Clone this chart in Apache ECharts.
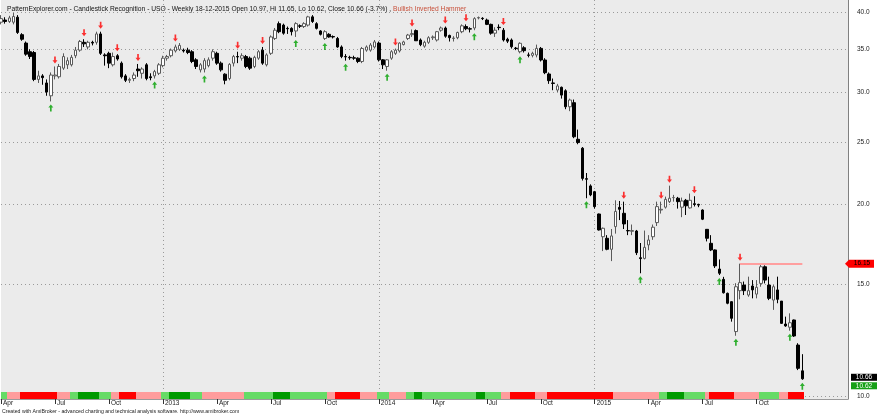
<!DOCTYPE html>
<html><head><meta charset="utf-8">
<script src="https://cdn.jsdelivr.net/npm/echarts@6/dist/echarts.min.js"></script>
<style>html,body{margin:0;padding:0;background:#fff}#c{width:880px;height:415px}</style>
</head><body><div id="c"></div>
<script>
// ---------- data ----------
const symbol = 'USO';
const dates = [
'2012-04-06','2012-04-13','2012-04-20','2012-04-27','2012-05-04','2012-05-11','2012-05-18','2012-05-25','2012-06-01','2012-06-08','2012-06-15','2012-06-22','2012-06-29','2012-07-06','2012-07-13','2012-07-20','2012-07-27','2012-08-03','2012-08-10','2012-08-17','2012-08-24','2012-08-31','2012-09-07','2012-09-14','2012-09-21','2012-09-28','2012-10-05','2012-10-12','2012-10-19','2012-10-26','2012-11-02','2012-11-09','2012-11-16','2012-11-23','2012-11-30','2012-12-07','2012-12-14','2012-12-21','2012-12-28',
'2013-01-04','2013-01-11','2013-01-18','2013-01-25','2013-02-01','2013-02-08','2013-02-15','2013-02-22','2013-03-01','2013-03-08','2013-03-15','2013-03-22','2013-03-29','2013-04-05','2013-04-12','2013-04-19','2013-04-26','2013-05-03','2013-05-10','2013-05-17','2013-05-24','2013-05-31','2013-06-07','2013-06-14','2013-06-21','2013-06-28','2013-07-05','2013-07-12','2013-07-19','2013-07-26','2013-08-02','2013-08-09','2013-08-16','2013-08-23','2013-08-30','2013-09-06','2013-09-13','2013-09-20','2013-09-27','2013-10-04','2013-10-11','2013-10-18','2013-10-25','2013-11-01','2013-11-08','2013-11-15','2013-11-22','2013-11-29','2013-12-06','2013-12-13','2013-12-20','2013-12-27',
'2014-01-03','2014-01-10','2014-01-17','2014-01-24','2014-01-31','2014-02-07','2014-02-14','2014-02-21','2014-02-28','2014-03-07','2014-03-14','2014-03-21','2014-03-28','2014-04-04','2014-04-11','2014-04-18','2014-04-25','2014-05-02','2014-05-09','2014-05-16','2014-05-23','2014-05-30','2014-06-06','2014-06-13','2014-06-20','2014-06-27','2014-07-04','2014-07-11','2014-07-18','2014-07-25','2014-08-01','2014-08-08','2014-08-15','2014-08-22','2014-08-29','2014-09-05','2014-09-12','2014-09-19','2014-09-26','2014-10-03','2014-10-10','2014-10-17','2014-10-24','2014-10-31','2014-11-07','2014-11-14','2014-11-21','2014-11-28','2014-12-05','2014-12-12','2014-12-19','2014-12-26',
'2015-01-02','2015-01-09','2015-01-16','2015-01-23','2015-01-30','2015-02-06','2015-02-13','2015-02-20','2015-02-27','2015-03-06','2015-03-13','2015-03-20','2015-03-27','2015-04-03','2015-04-10','2015-04-17','2015-04-24','2015-05-01','2015-05-08','2015-05-15','2015-05-22','2015-05-29','2015-06-05','2015-06-12','2015-06-19','2015-06-26','2015-07-03','2015-07-10','2015-07-17','2015-07-24','2015-07-31','2015-08-07','2015-08-14','2015-08-21','2015-08-28','2015-09-04','2015-09-11','2015-09-18','2015-09-25','2015-10-02','2015-10-09','2015-10-16','2015-10-23','2015-10-30','2015-11-06','2015-11-13','2015-11-20','2015-11-27','2015-12-04','2015-12-11','2015-12-18'
];
const open = [
38.6,38.9,38.7,38.6,39.3,36.9,35.8,34.7,34.6,31.4,
31.8,31.0,29.6,31.8,31.7,32.7,33.1,33.1,34.2,34.9,
35.9,35.3,35.9,35.9,37.0,34.3,34.5,33.1,34.2,33.3,
31.8,31.3,31.5,32.6,32.1,33.1,31.7,31.8,32.1,33.0,
33.9,34.2,34.8,35.0,34.9,34.9,34.7,33.7,32.5,32.6,
33.0,33.9,34.5,33.3,32.0,31.5,33.3,34.1,33.9,34.1,
33.9,32.9,33.9,34.9,33.1,34.5,36.4,38.4,38.2,37.75,
37.75,37.4,38.1,38.0,38.2,39.35,38.4,37.4,36.4,36.95,
36.65,36.4,35.3,34.1,34.0,33.95,33.9,33.5,34.9,34.9,
35.3,35.8,33.7,32.9,33.9,34.5,34.8,35.6,36.4,36.9,
37.45,36.2,35.4,35.9,36.5,36.2,37.5,37.8,36.8,36.4,
36.5,37.3,38.0,37.7,37.8,39.2,39.15,38.9,38.3,37.1,
37.9,37.5,36.3,36.2,35.15,34.7,35.2,34.3,34.25,34.29,
35.12,33.68,32.02,31.0,30.22,30.52,30.14,28.45,28.87,25.3,
24.5,21.95,21.38,20.94,19.32,17.8,17.7,17.01,18.46,19.79,
19.37,18.2,18.15,18.17,16.5,16.46,17.28,17.8,18.73,19.6,
19.8,20.2,20.5,20.45,19.8,20.3,19.75,20.05,20.0,19.6,
18.28,17.38,16.97,15.84,15.26,14.51,14.08,12.64,14.65,14.95,
14.42,14.9,14.47,15.04,15.97,14.95,14.16,14.69,14.11,12.99,
12.84,13.18,12.04,10.97
];
const high = [
39.6,39.3,39.5,39.9,39.6,37.1,36.0,35.0,34.8,32.4,
32.0,31.4,32.2,32.9,33.2,34.5,34.0,34.3,35.3,36.2,
36.3,36.1,36.1,37.3,37.3,34.5,34.7,34.6,34.4,33.5,
32.0,31.6,32.2,33.2,32.8,33.3,32.1,32.5,33.3,34.2,
34.3,35.1,35.6,35.8,35.1,35.2,34.9,33.9,33.3,33.9,
34.0,35.0,34.7,33.5,32.1,33.3,34.3,34.7,34.5,34.3,
34.1,34.2,34.9,35.3,34.5,36.8,37.8,38.7,38.4,38.0,
37.9,38.6,38.3,38.6,39.5,39.6,38.6,37.5,37.5,37.1,
36.8,36.6,35.5,34.4,34.2,34.2,34.0,35.3,35.5,35.8,
36.2,36.0,33.8,33.8,34.9,35.1,35.9,36.1,37.0,37.6,
37.6,36.4,36.1,36.7,36.8,37.4,38.0,38.0,36.9,36.7,
37.3,38.3,38.3,37.9,39.3,39.4,39.3,39.1,38.4,37.9,
38.3,37.8,36.5,36.4,35.3,35.9,35.4,34.6,34.7,35.6,
35.3,33.9,32.2,31.5,30.9,30.6,30.3,29.3,29.2,26.2,
24.6,22.4,21.5,21.0,19.35,18.4,17.9,18.3,20.3,20.25,
20.2,18.9,18.6,18.24,17.4,18.2,17.9,18.6,20.2,20.2,
20.57,21.4,20.7,20.55,20.5,20.4,20.8,20.6,20.05,19.65,
18.3,17.9,17.0,16.4,15.4,14.55,14.1,15.05,16.15,15.14,
15.41,15.22,15.22,16.12,16.05,15.41,14.95,15.41,14.11,13.34,
13.5,13.2,12.12,11.65
];
const low = [
38.3,38.4,38.5,38.3,37.0,36.1,34.2,33.8,31.2,31.0,
30.8,29.6,29.0,31.4,31.5,32.5,32.6,32.9,33.9,34.7,
35.3,35.0,35.5,35.6,34.3,33.0,32.7,32.9,33.6,31.5,
31.1,31.0,31.2,31.7,31.5,31.3,31.3,31.5,31.9,32.8,
33.6,34.0,34.6,34.8,34.6,34.4,33.3,32.6,32.2,32.2,
32.8,33.6,33.1,32.3,30.85,31.3,32.9,33.3,33.6,32.7,
32.5,32.7,33.7,33.1,32.9,34.3,36.2,37.1,36.9,37.0,
36.8,36.6,37.8,37.8,38.0,38.5,37.6,36.8,36.2,36.5,
36.4,35.2,33.9,33.6,33.7,33.7,33.3,33.3,34.7,34.7,
35.1,33.5,32.6,32.4,33.7,34.3,34.6,35.5,36.2,36.6,
36.1,35.4,35.2,35.7,36.2,36.0,37.3,36.5,36.0,36.0,
36.3,37.1,37.5,37.2,37.5,39.0,38.9,38.2,36.9,36.6,
37.5,36.0,35.8,35.1,34.9,34.5,34.6,34.0,34.0,34.0,
33.5,32.0,30.9,30.2,30.0,29.3,28.2,28.0,25.4,24.85,
21.8,20.45,20.6,19.7,18.2,16.9,16.95,16.3,18.0,18.9,
18.3,17.9,17.9,16.66,15.6,16.4,16.95,17.6,18.5,19.35,
19.7,20.1,20.2,19.7,19.1,19.25,19.7,19.85,19.8,18.9,
17.5,16.9,15.9,15.5,14.5,13.95,13.1,12.45,14.2,14.42,
14.33,14.25,14.25,14.86,15.04,14.16,13.67,14.0,13.0,12.86,
12.68,12.4,11.0,10.62
];
const close = [
39.1,38.7,39.2,39.4,37.2,36.3,34.4,34.1,31.4,31.8,
31.6,30.0,31.9,31.9,32.9,34.1,33.6,34.0,34.9,36.0,
35.7,35.9,35.8,37.0,34.5,34.2,33.3,34.1,33.8,31.7,
31.3,31.4,31.9,32.4,32.6,31.5,31.6,32.3,33.1,33.9,
34.1,34.9,35.3,35.5,34.8,34.6,33.5,32.9,33.1,33.6,
33.7,34.7,33.3,32.5,31.3,33.15,34.1,34.05,34.2,32.9,
32.7,34.0,34.7,33.3,34.3,36.6,37.5,37.3,37.1,37.7,
37.3,38.4,38.05,38.4,39.35,38.7,37.75,36.95,37.3,36.6,
36.6,35.3,34.1,34.05,33.95,33.9,33.5,35.1,35.3,35.55,
35.95,33.7,33.1,33.7,34.7,34.9,35.8,35.95,36.85,37.05,
36.1,35.6,35.9,36.5,36.6,37.3,37.8,36.7,36.5,36.45,
37.2,38.1,37.7,37.65,39.1,39.25,39.1,38.3,37.1,37.5,
37.85,36.2,36.05,35.33,35.1,35.77,34.83,34.25,34.5,35.12,
33.68,32.17,31.26,30.95,30.67,29.67,28.45,29.15,25.53,25.0,
21.97,21.9,20.7,19.84,18.24,18.35,17.01,17.85,19.5,19.65,
18.64,18.18,18.2,16.8,16.45,17.13,17.59,18.42,19.84,19.65,
20.37,20.45,20.5,20.2,20.25,19.9,20.3,20.0,19.95,18.96,
17.7,16.97,16.02,15.6,14.54,14.0,13.26,14.86,15.08,14.65,
14.65,14.69,14.83,15.97,15.22,14.25,14.86,14.2,13.02,12.9,
13.05,12.44,11.07,10.66
];
// trend ribbon: 0 light green, 1 dark green, 2 light red, 3 red
const trend = [
0,0,2,2,2,3,3,3,3,3,
3,3,3,3,2,2,2,0,0,1,
1,1,1,1,0,0,0,2,2,3,
3,3,3,2,2,2,2,2,2,0,
0,1,1,1,1,1,0,0,0,2,
2,2,2,2,2,2,2,2,2,0,
0,0,0,0,0,0,1,1,1,1,
0,0,0,0,0,0,0,0,0,2,
2,3,3,3,3,3,3,2,2,2,
2,0,0,0,2,2,2,2,0,0,
1,1,0,0,0,0,0,0,0,0,
0,0,0,0,0,1,1,0,0,0,
0,2,2,3,3,3,3,3,3,2,
2,2,3,3,3,3,3,3,3,3,
3,3,3,3,3,3,3,3,2,2,
2,2,2,2,2,2,2,2,2,0,
0,1,1,1,1,0,0,0,0,0,
2,3,3,3,3,3,3,2,2,2,
2,2,2,0,0,0,0,0,2,2,
3,3,3,3
];
const bearishIdx = [13,20,24,28,33,42,57,63,95,99,107,112,121,150,159,161,167,178];
const bullishIdx = [12,37,49,71,78,83,93,114,125,141,154,173,177,190,193];
const yTicks = [10,15,20,25,30,35,40];
const resistance = {value:16.15, from:178, to:193};
const patternName = 'Bullish Inverted Hammer';
const footerText = 'Created with AmiBroker - advanced charting and technical analysis software. http://www.amibroker.com';

// ---------- styling ----------
const trendColors = ['#66db66','#009a00','#ff9c9c','#ff0000'];
const padSlots = 11;
const FONT = 'Liberation Sans, Arial, sans-serif';

const cats = dates.concat(new Array(padSlots).fill(''));
const qNames = {'01':null,'04':'Apr','07':'Jul','10':'Oct'};
function isQuarterStart(i){
  if (i >= dates.length) return false;
  const m = dates[i].slice(5,7);
  if (!(m in qNames)) return false;
  return i === 0 || dates[i-1].slice(5,7) !== m;
}
function isYearStart(i){
  return i > 0 && i < dates.length && dates[i].slice(0,4) !== dates[i-1].slice(0,4);
}

const n = dates.length;
const lastO = open[n-1], lastH = high[n-1], lastL = low[n-1], lastC = close[n-1];
const pct = ((lastC - close[n-2]) / close[n-2] * 100).toFixed(1);
const dParts = dates[n-1].split('-');
const titleMain = 'PatternExplorer.com - Candlestick Recognition - ' + symbol + ' - Weekly ' +
  dParts[2] + '-' + dParts[1] + '-' + dParts[0] + ' Open ' + lastO.toFixed(2) + ', Hi ' + lastH.toFixed(2) +
  ', Lo ' + lastL.toFixed(2) + ', Close ' + lastC.toFixed(2) + ' (' + pct + '%) ,';

const candleData = dates.map((d,i) => [open[i], close[i], low[i], high[i]]);
const downPath = 'path://M2,0 L4,0 L4,5 L6,5 L3,9 L0,5 L2,5 Z';
const upPath = 'path://M3,0 L6,4 L4,4 L4,9 L2,9 L2,4 L0,4 Z';

const chart = echarts.init(document.getElementById('c'), null, {renderer:'canvas'});
const option = {
  animation: false,
  backgroundColor: '#ffffff',
  textStyle: {fontFamily: FONT},
  title: {
    left: 2, top: 1,
    text: '{a|' + titleMain + '}{b| ' + patternName + '}',
    textStyle: {fontWeight: 'normal', rich: {
      a: {fontSize: 6.7, color: '#111', fontFamily: FONT, fontWeight: 'normal'},
      b: {fontSize: 6.7, color: '#c8503a', fontFamily: FONT, fontWeight: 'normal'}
    }}
  },
  grid: [
    {left: 1, right: 32, top: 0, bottom: 16, show: true, backgroundColor: '#ebebeb', borderWidth: 0},
    {left: 1, right: 32, top: 392, height: 7}
  ],
  xAxis: [
    {type: 'category', data: cats, boundaryGap: false, gridIndex: 0,
     axisLine: {show: true, onZero: false, lineStyle: {color: '#9a9a9a'}},
     axisTick: {show: true, interval: (i) => isQuarterStart(i), length: 5, lineStyle: {color: '#333'}},
     axisLabel: {show: true, interval: (i) => isQuarterStart(i), align: 'left', margin: 1,
       padding: [0,0,0,2], fontSize: 6.5, color: '#222', fontFamily: FONT,
       formatter: (v) => { if (!v) return ''; const m = v.slice(5,7); return m === '01' ? v.slice(0,4) : qNames[m]; }},
     splitLine: {show: true, interval: (i) => isYearStart(i), lineStyle: {color: '#9a9a9a', type: [1,3], width: 1}}
    },
    {type: 'category', data: cats, boundaryGap: false, gridIndex: 1, show: false}
  ],
  yAxis: [
    {type: 'log', logBase: 10, min: 9.91, max: 41.82, position: 'right', gridIndex: 0,
     axisLine: {show: true, lineStyle: {color: '#808080'}},
     axisTick: {show: false}, axisLabel: {show: false}, splitLine: {show: false}},
    {type: 'value', min: 0, max: 1, gridIndex: 1, show: false}
  ],
  series: [
    {type: 'line', data: [], z: 1, silent: true,
     markLine: {silent: true, symbol: 'none', animation: false, z: 1,
       lineStyle: {color: '#9a9a9a', type: [1,3], width: 1},
       label: {show: true, position: 'end', distance: 9, fontSize: 6.5, color: '#222', fontFamily: FONT},
       data: yTicks.map(v => ({yAxis: v, label: {formatter: v.toFixed(1)}}))}
    },
    {type: 'custom', xAxisIndex: 1, yAxisIndex: 1, silent: true, z: 6, clip: true,
     data: trend.map((c, i) => [i, c]),
     renderItem: (params, api) => {
       const cx = api.coord([api.value(0), 0])[0];
       const w = api.size([1, 0])[0];
       const x0 = Math.round(cx - w / 2), x1 = Math.round(cx + w / 2);
       const cs = params.coordSys;
       return {type: 'rect', shape: {x: x0, y: cs.y, width: x1 - x0, height: cs.height},
               style: {fill: trendColors[api.value(1)]}};
     }
    },
    {type: 'candlestick', data: candleData, barWidth: 3, z: 2,
     itemStyle: {color: '#ffffff', color0: '#000000', borderColor: '#5a5a5a', borderColor0: '#000000', borderWidth: 1},
     markLine: {silent: true, symbol: 'none', animation: false, label: {show: false},
       lineStyle: {color: '#ff9f9f', type: 'solid', width: 2},
       data: [[{coord: [resistance.from, resistance.value]}, {coord: [resistance.to, resistance.value]}]]}
    },
    {type: 'scatter', z: 4, silent: true, symbol: downPath, symbolSize: [5,7], symbolOffset: [0,-6.5],
     itemStyle: {color: '#ff0000'},
     data: bearishIdx.map(i => [i, high[i]])},
    {type: 'scatter', z: 4, silent: true, symbol: upPath, symbolSize: [5,7], symbolOffset: [0,6.5],
     itemStyle: {color: '#00a000'},
     data: bullishIdx.map(i => [i, low[i]])}
  ]
};
chart.setOption(option);

// value tags on the right axis, positioned through the y scale
const yRes = chart.convertToPixel({yAxisIndex: 0}, resistance.value);
const yClose = chart.convertToPixel({yAxisIndex: 0}, lastC);
const tagFont = '6.5px ' + FONT;
chart.setOption({graphic: [
  {type: 'polygon', shape: {points: [[845, yRes], [849, yRes-4], [874, yRes-4], [874, yRes+4], [849, yRes+4]]},
   style: {fill: '#ff0000'}, silent: true, z: 10},
  {type: 'text', x: 862, y: yRes, style: {text: resistance.value.toFixed(2), font: tagFont, fill: '#000', align: 'center', verticalAlign: 'middle'}, z: 11},
  {type: 'rect', shape: {x: 851, y: yClose - 5, width: 26, height: 7}, style: {fill: '#000'}, z: 10},
  {type: 'text', x: 864, y: yClose - 1.5, style: {text: lastC.toFixed(2), font: tagFont, fill: '#fff', align: 'center', verticalAlign: 'middle'}, z: 11},
  {type: 'rect', shape: {x: 851, y: yClose + 3.5, width: 26, height: 7}, style: {fill: '#17a017'}, z: 10},
  {type: 'text', x: 864, y: yClose + 7, style: {text: lastL.toFixed(2), font: tagFont, fill: '#fff', align: 'center', verticalAlign: 'middle'}, z: 11},
  {type: 'text', x: 2, y: 409, style: {text: footerText, font: '5.2px ' + FONT, fill: '#222', verticalAlign: 'top'}, z: 11}
]});
</script></body></html>
